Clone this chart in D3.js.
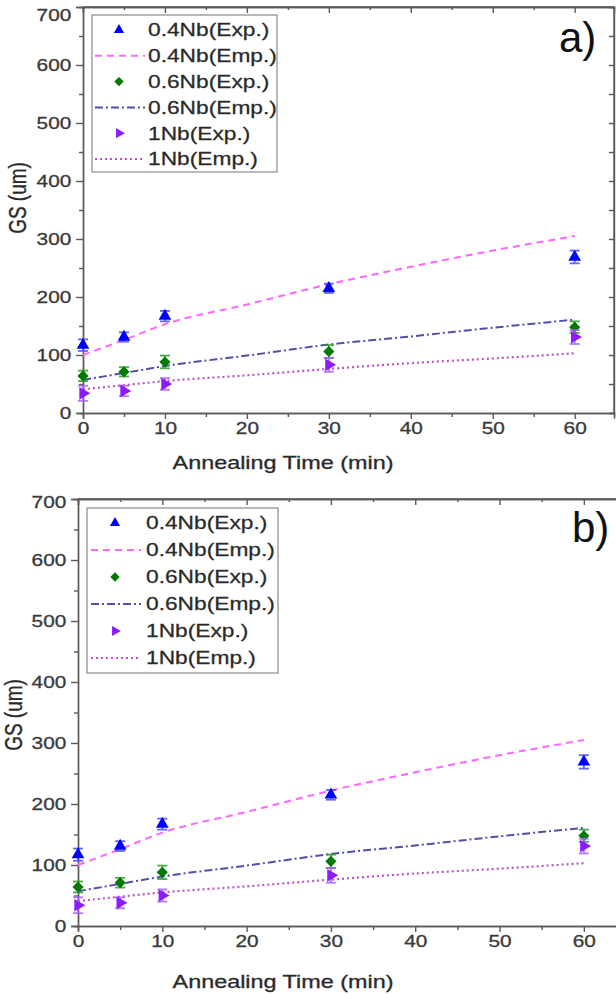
<!DOCTYPE html>
<html>
<head>
<meta charset="utf-8">
<script src="https://cdn.jsdelivr.net/npm/d3@7"></script>
<style>
  body { margin: 0; background: #fff; }
  svg { display: block; }
  text { font-family: "Liberation Sans", Arial, sans-serif; }
</style>
</head>
<body>
<div id="chart"></div>
<script>
// measured points (annealing time in min, grain size in um)
var timeExp = [0, 5, 10, 30, 60];
var exp04 = [117, 131, 167, 215, 269];
var err04 = [10, 8, 9, 8, 11];
var exp06 = [64, 71, 88, 106, 148];
var err06 = [9, 8, 11, 11, 10];
var exp1 = [34, 38, 50, 83, 131];
var err1 = [13, 9, 10, 12, 12];

// empirical curves
var timeEmp = [0, 5, 10, 20, 30, 40, 50, 60];
var emp04 = [100, 126, 153, 187, 222, 252, 280, 305];
var emp06 = [57, 69, 81, 99, 118, 132, 147, 161];
var emp1 = [41, 48, 55, 65, 76, 86, 94, 103];

var yMajor = [0, 100, 200, 300, 400, 500, 600, 700];
var yMinor = [50, 150, 250, 350, 450, 550, 650];
var xMajor = [0, 10, 20, 30, 40, 50, 60];
var xMinor = [5, 15, 25, 35, 45, 55];

var legendLabels = ["0.4Nb(Exp.)", "0.4Nb(Emp.)", "0.6Nb(Exp.)", "0.6Nb(Emp.)", "1Nb(Exp.)", "1Nb(Emp.)"];

var axisCol = "#5a5a5a", textCol = "#3a3a3a";
var stretch = "scale(1.3,1)";

var expSeries = [
  {vals: exp04, err: err04, shape: "up", color: "#0000ff", bar: "#4b4bff"},
  {vals: exp06, err: err06, shape: "diamond", color: "#007a00", bar: "#2c9a2c"},
  {vals: exp1, err: err1, shape: "right", color: "#8c1cff", bar: "#a860ff"}
];
var empSeries = [
  {vals: emp04, color: "#ff66ff", dash: "7,5", width: 2},
  {vals: emp06, color: "#5050a8", dash: "8,3,2,3", width: 2},
  {vals: emp1, color: "#bb55c4", dash: "2,3", width: 2.2}
];

var svg = d3.select("#chart").append("svg")
    .attr("width", 616)
    .attr("height", 994);

function marker(g, shape, size) {
  var p = g.append("path").attr("d", d3.symbol()
      .type(shape == "diamond" ? d3.symbolSquare : d3.symbolTriangle).size(size)());
  if (shape == "right") p.attr("transform", "rotate(90)");
  if (shape == "diamond") p.attr("transform", "rotate(45)");
  return p;
}

function drawPanel(cfg) {
  var g = svg.append("g");
  var x = d3.scaleLinear().domain([0, cfg.xMax]).range([cfg.left, cfg.right]);
  var y = d3.scaleLinear().domain([0, 700]).range([cfg.bottom, cfg.top]);

  // frame: top and right
  g.append("line").attr("x1", cfg.left).attr("x2", cfg.right).attr("y1", cfg.top).attr("y2", cfg.top)
    .attr("stroke", axisCol).attr("stroke-width", 1.4);
  g.append("line").attr("x1", cfg.right).attr("x2", cfg.right).attr("y1", cfg.top).attr("y2", cfg.bottom)
    .attr("stroke", axisCol).attr("stroke-width", 1.4);

  // left axis
  var yl = g.append("g").attr("transform", "translate(" + cfg.left + ",0)")
    .call(d3.axisLeft(y).tickValues(yMajor).tickSize(7).tickPadding(2));
  yl.append("g").call(d3.axisLeft(y).tickValues(yMinor).tickSize(4).tickFormat(""));
  // right axis, inward
  g.append("g").attr("transform", "translate(" + cfg.right + ",0)")
    .call(d3.axisLeft(y).tickValues(yMajor.concat(yMinor)).tickSize(5).tickFormat(""));
  // bottom axis
  var xb = g.append("g").attr("transform", "translate(0," + cfg.bottom + ")")
    .call(d3.axisBottom(x).tickValues(xMajor).tickSize(6).tickPadding(4));
  xb.append("g").call(d3.axisBottom(x).tickValues(xMinor).tickSize(4).tickFormat(""));
  // top axis, inward
  g.append("g").attr("transform", "translate(0," + cfg.top + ")")
    .call(d3.axisBottom(x).tickValues(xMajor).tickSize(6).tickFormat(""))
    .append("g").call(d3.axisBottom(x).tickValues(xMinor).tickSize(3).tickFormat(""));

  g.selectAll(".domain").attr("stroke", axisCol).attr("stroke-width", 1.4);
  g.selectAll(".tick line").attr("stroke", axisCol).attr("stroke-width", 1.4);
  g.selectAll(".tick text").attr("fill", textCol).attr("font-size", 16)
    .attr("stroke", textCol).attr("stroke-width", 0.3)
    .attr("font-family", "Liberation Sans, Arial, sans-serif").attr("transform", stretch);
  // top label sits a little lower so it stays inside the picture
  yl.selectAll(".tick text").filter(function(d) { return d == 700; })
    .attr("transform", "translate(0," + cfg.topLabelShift + ") " + stretch);

  // axis titles
  g.append("text").attr("transform", "translate(" + cfg.xTitleX + "," + cfg.xTitleY + ") " + stretch)
    .attr("text-anchor", "middle").attr("font-size", 18).attr("fill", "#2a2a2a")
    .attr("stroke", "#2a2a2a").attr("stroke-width", 0.3)
    .text("Annealing Time (min)");
  g.append("text").attr("transform", "translate(" + cfg.yTitleX + "," + cfg.yTitleY + ") rotate(-90) scale(1,1.3)")
    .attr("text-anchor", "middle").attr("font-size", 19).attr("fill", "#2a2a2a")
    .attr("stroke", "#2a2a2a").attr("stroke-width", 0.3)
    .text("GS (um)");

  // empirical curves
  var line = d3.line().x(function(d, i) { return x(timeEmp[i]); }).y(function(d) { return y(d); })
    .curve(d3.curveMonotoneX);
  empSeries.forEach(function(s) {
    g.append("path").attr("d", line(s.vals)).attr("fill", "none")
      .attr("stroke", s.color).attr("stroke-width", s.width).attr("stroke-dasharray", s.dash);
  });

  // measured points with error bars
  expSeries.forEach(function(s) {
    s.vals.forEach(function(v, i) {
      var px = x(timeExp[i]);
      var eb = g.append("g").attr("stroke", s.bar).attr("stroke-width", 1.8).attr("opacity", 0.85);
      eb.append("line").attr("x1", px).attr("x2", px).attr("y1", y(v - s.err[i])).attr("y2", y(v + s.err[i]));
      eb.append("line").attr("x1", px - 5).attr("x2", px + 5).attr("y1", y(v - s.err[i])).attr("y2", y(v - s.err[i]));
      eb.append("line").attr("x1", px - 5).attr("x2", px + 5).attr("y1", y(v + s.err[i])).attr("y2", y(v + s.err[i]));
      var mg = g.append("g").attr("transform", "translate(" + px + "," + y(v) + ")");
      marker(mg, s.shape, s.shape == "diamond" ? 62 : 70).attr("fill", s.color);
    });
  });

  // legend
  var lg = g.append("g");
  lg.append("rect").attr("x", cfg.legX).attr("y", cfg.legY).attr("width", cfg.legW).attr("height", cfg.legH)
    .attr("fill", "#fff").attr("stroke", "#8a8a8a").attr("stroke-width", 1.2);
  legendLabels.forEach(function(lab, i) {
    var ry = cfg.legY + cfg.legRow0 + i * cfg.legStep;
    var s = i % 2 == 0 ? expSeries[i / 2] : empSeries[(i - 1) / 2];
    if (i % 2 == 0) {
      var mg = lg.append("g").attr("transform", "translate(" + cfg.legSym + "," + ry + ")");
      marker(mg, s.shape, s.shape == "diamond" ? 44 : 45).attr("fill", s.color);
    } else {
      lg.append("line").attr("x1", cfg.legSym - 24).attr("x2", cfg.legSym + 26).attr("y1", ry).attr("y2", ry)
        .attr("stroke", s.color).attr("stroke-width", s.width).attr("stroke-dasharray", s.dash);
    }
    lg.append("text").attr("transform", "translate(" + cfg.legText + "," + ry + ") " + stretch)
      .attr("dy", "0.36em").attr("font-size", 17.5).attr("fill", "#2a2a2a")
      .attr("stroke", "#2a2a2a").attr("stroke-width", 0.25).text(lab);
  });

  // panel tag
  g.append("text").attr("x", cfg.tagX).attr("y", cfg.tagY)
    .attr("font-family", "Liberation Serif, Times New Roman, serif").attr("font-size", 42)
    .attr("fill", "#111").text(cfg.tag);
}

drawPanel({left: 83, right: 614, xMax: 64.8, top: 7, bottom: 413, topLabelShift: 8,
  xTitleX: 283, xTitleY: 469, yTitleX: 26, yTitleY: 198,
  legX: 92, legY: 15, legW: 185, legH: 157, legRow0: 15, legStep: 25.8, legSym: 119, legText: 148,
  tag: "a)", tagX: 559, tagY: 52});

drawPanel({left: 78, right: 626, xMax: 65, top: 499, bottom: 926, topLabelShift: 3,
  xTitleX: 283, xTitleY: 988, yTitleX: 22, yTitleY: 715,
  legX: 87, legY: 508, legW: 191, legH: 165, legRow0: 15, legStep: 27, legSym: 115, legText: 146,
  tag: "b)", tagX: 572, tagY: 542});
</script>
</body>
</html>
